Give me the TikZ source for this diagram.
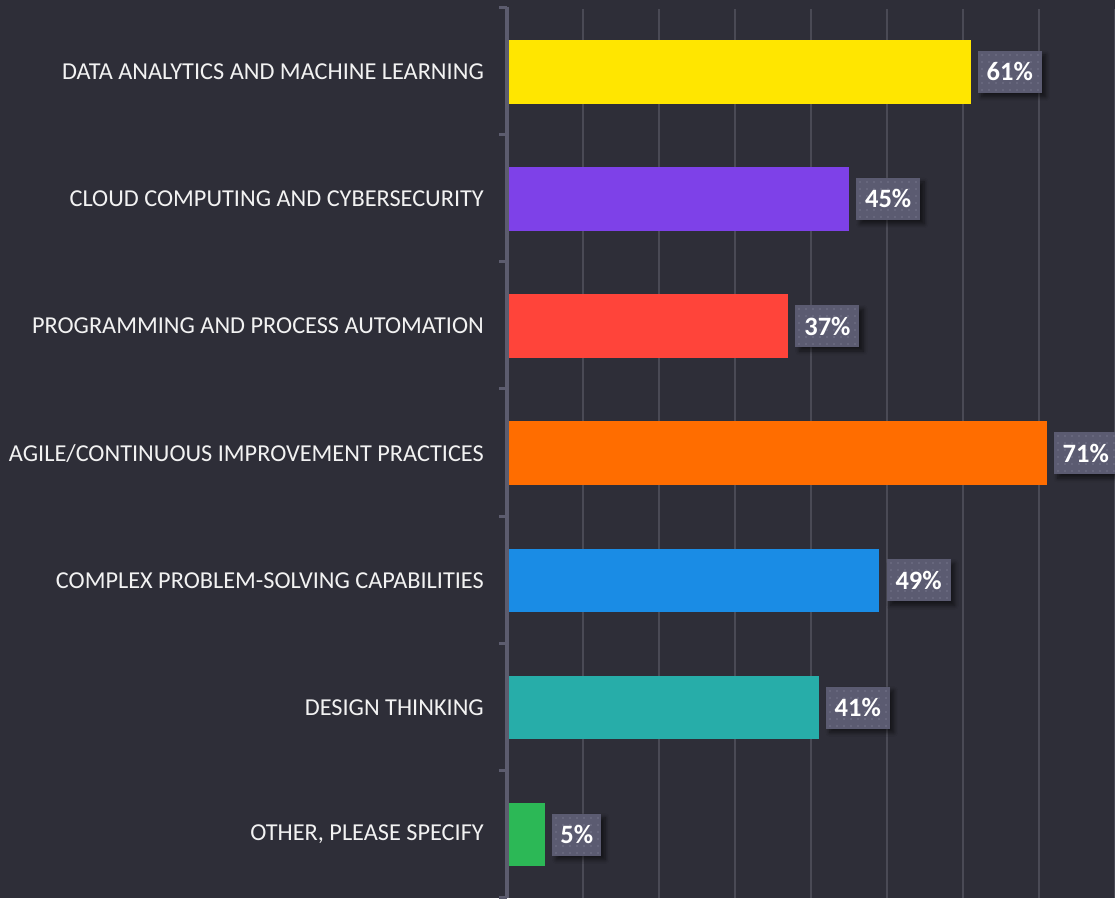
\documentclass[tikz,border=0pt]{standalone}
\usepackage{fontspec}
\setmainfont{Carlito}
\usetikzlibrary{shadows,shadows.blur}
\definecolor{bg}{HTML}{2E2E38}
\definecolor{gridc}{HTML}{4A4A55}
\definecolor{axisc}{HTML}{5C5C6E}
\definecolor{boxc}{HTML}{5B5B71}
\definecolor{dotc}{HTML}{67677D}
\definecolor{labc}{HTML}{F2F2F2}
\definecolor{cyellow}{HTML}{FFE600}
\definecolor{cpurple}{HTML}{7E41E8}
\definecolor{cred}{HTML}{FF443A}
\definecolor{corange}{HTML}{FF6D00}
\definecolor{cblue}{HTML}{1A8CE5}
\definecolor{cteal}{HTML}{27ADA9}
\definecolor{cgreen}{HTML}{2CB856}
\begin{document}
\begin{tikzpicture}[x=1pt,y=-1pt,
  gridline/.style={gridc, line width=1.6pt},
  axisline/.style={axisc, line width=4pt},
  tickline/.style={axisc, line width=3pt},
  lbl/.style={anchor=east, text=labc, inner sep=0pt, font=\fontsize{24.3}{28}\selectfont},
  valbox/.style={anchor=west, fill=boxc, text=white, inner xsep=0pt, inner ysep=0pt,
    minimum height=42pt, font=\bfseries\fontsize{26.5}{30}\selectfont,
    blur shadow={shadow xshift=4pt, shadow yshift=-4pt, shadow blur radius=4pt, shadow blur steps=8, shadow opacity=55},
    path picture={\foreach \i in {0,...,9}{\foreach \j in {0,...,6}{
      \fill[dotc] ([xshift=\i*7pt+3pt, yshift=-\j*7pt-3pt]path picture bounding box.north west) rectangle ++(2pt,-2pt);}}}}
]
\fill[bg] (0,0) rectangle (1115,898);
\useasboundingbox (0,0) rectangle (1115,898);
\foreach \k in {1,...,8} \draw[gridline] (507+76*\k, 9) -- (507+76*\k, 898);
\foreach \t/\lab/\v/\c/\w in {
  0/{DATA ANALYTICS AND MACHINE LEARNING}/61/cyellow/64,
  1/{CLOUD COMPUTING AND CYBERSECURITY}/45/cpurple/64,
  2/{PROGRAMMING AND PROCESS AUTOMATION}/37/cred/64,
  3/{AGILE/CONTINUOUS IMPROVEMENT PRACTICES}/71/corange/64,
  4/{COMPLEX PROBLEM-SOLVING CAPABILITIES}/49/cblue/64,
  5/{DESIGN THINKING}/41/cteal/64,
  6/{OTHER, PLEASE SPECIFY}/5/cgreen/49}{
  \pgfmathsetmacro{\cy}{71.8+127.14*\t}
  \pgfmathsetmacro{\bx}{507+7.6*\v}
  \fill[\c] (507,\cy-31.75) rectangle (\bx,\cy+31.75);
  \node[lbl] (lab\t) at (484,\cy) {\lab};
  \node[valbox, minimum width=\w pt] (val\t) at (\bx+7,\cy) {\v\%};
}
\draw[axisline] (507,7) -- (507,898);
\foreach \t in {0,...,7} \draw[tickline] (499,7.5+127.14*\t) -- (507,7.5+127.14*\t);
\end{tikzpicture}
\end{document}
